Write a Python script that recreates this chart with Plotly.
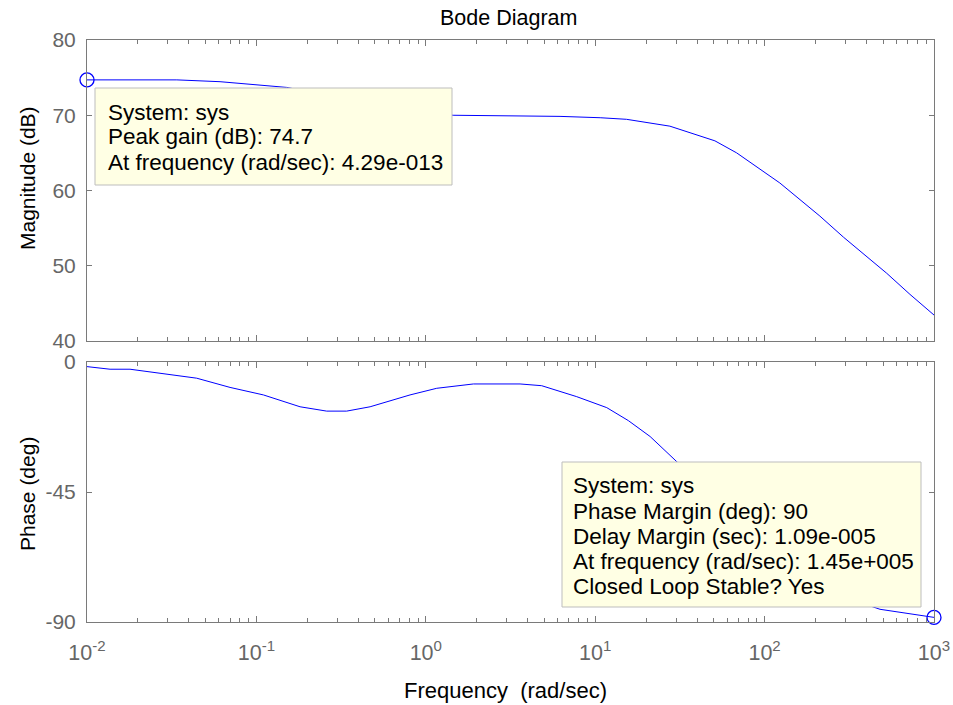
import plotly.graph_objects as go

# ---- data ----
mag_freq = [0.01, 0.0179, 0.0339, 0.061, 0.151, 0.3, 0.6, 1.45, 3.0, 6.2, 10.7,
            15.3, 27.6, 50.9, 68.4, 89.7, 123, 212, 292, 526, 721, 1000]
mag_db = [74.7, 74.7, 74.7, 74.46, 73.7, 72.4, 71.0, 70.0, 69.9, 69.85, 69.67,
          69.46, 68.55, 66.6, 65.0, 63.2, 61.0, 56.6, 53.8, 49.0, 46.2, 43.45]

phase_freq = [0.01, 0.01368, 0.01795, 0.0309, 0.0444, 0.0699, 0.110, 0.181, 0.260,
              0.341, 0.469, 0.807, 1.16, 1.91, 3.60, 4.83, 7.78, 11.7, 15.7, 21.1,
              30.3, 50, 100, 200, 480, 1000]
phase_deg = [-1.6, -2.5, -2.5, -4.3, -5.6, -8.8, -11.4, -15.5, -17.0, -17.0, -15.5,
             -11.4, -9.1, -7.6, -7.6, -8.2, -12.0, -15.8, -20.3, -25.8, -34.5,
             -47, -66, -78, -85.6, -88.4]

peak_freq = [0.01]
peak_db = [74.7]
pm_freq = [1000]
pm_deg = [-88.4]

x_tickvals = [0.01, 0.1, 1, 10, 100, 1000]
x_ticktext = ["10<sup>-2</sup>", "10<sup>-1</sup>", "10<sup>0</sup>",
              "10<sup>1</sup>", "10<sup>2</sup>", "10<sup>3</sup>"]
mag_ticks = [40, 50, 60, 70, 80]
mag_ticktext = ["40", "50", "60", "70", "80"]
phase_ticks = [-90, -45, 0]
phase_ticktext = ["-90", "-45", "0"]

box1_lines = ["System: sys", "Peak gain (dB): 74.7",
              "At frequency (rad/sec): 4.29e-013"]
box2_lines = ["System: sys", "Phase Margin (deg): 90", "Delay Margin (sec): 1.09e-005",
              "At frequency (rad/sec): 1.45e+005", "Closed Loop Stable? Yes"]

# ---- layout geometry (pixels) ----
W, H = 953, 705
L, R, T, B = 87, 934, 40, 622
FONT = "Liberation Sans, Arial, sans-serif"
AX = "#7a7a7a"
TICKC = "#666666"


def px(x):
    return (x - L) / (R - L)


def py(y):
    return (B - y) / (B - T)


top_dom = [py(341), 1.0]
bot_dom = [0.0, py(362)]

fig = go.Figure()
fig.add_trace(go.Scatter(x=mag_freq, y=mag_db, mode="lines",
                         line=dict(color="#0000ff", width=1), xaxis="x", yaxis="y",
                         showlegend=False))
fig.add_trace(go.Scatter(x=phase_freq, y=phase_deg, mode="lines",
                         line=dict(color="#0000ff", width=1), xaxis="x2", yaxis="y2",
                         showlegend=False))
fig.add_trace(go.Scatter(x=peak_freq, y=peak_db, mode="markers", cliponaxis=False,
                         marker=dict(symbol="circle-open", size=14, color="#0000ff",
                                     line=dict(width=1.3)),
                         xaxis="x", yaxis="y", showlegend=False))
fig.add_trace(go.Scatter(x=pm_freq, y=pm_deg, mode="markers", cliponaxis=False,
                         marker=dict(symbol="circle-open", size=14, color="#0000ff",
                                     line=dict(width=1.3)),
                         xaxis="x2", yaxis="y2", showlegend=False))

minor_vals = [m * 10.0 ** e for e in range(-2, 3) for m in range(2, 10)]

xcommon = dict(type="log", range=[-2, 3], tickvals=x_tickvals, ticktext=x_ticktext,
               ticks="inside", ticklen=6, tickcolor=AX, showline=True, linecolor=AX,
               linewidth=1, mirror="allticks", showgrid=False, zeroline=False,
               automargin=False,
               minor=dict(tickvals=minor_vals, ticks="inside", ticklen=4,
                          tickcolor=AX, showgrid=False),
               tickfont=dict(family=FONT, size=21.5, color=TICKC))
ycommon = dict(ticks="inside", ticklen=5, tickcolor=AX, showline=True, linecolor=AX,
               linewidth=1, mirror="allticks", showgrid=False, zeroline=False,
               automargin=False,
               tickfont=dict(family=FONT, size=21, color=TICKC), ticklabelstandoff=6)

fig.update_layout(
    width=W, height=H, autosize=False,
    margin=dict(l=L, r=W - R, t=T, b=H - B, pad=0, autoexpand=False),
    paper_bgcolor="white", plot_bgcolor="white",
    xaxis=dict(domain=[0, 1], anchor="y", showticklabels=False, **xcommon),
    yaxis=dict(domain=top_dom, anchor="x", range=[40, 80], tickvals=mag_ticks,
               ticktext=mag_ticktext, **ycommon),
    xaxis2=dict(domain=[0, 1], anchor="y2", showticklabels=True, ticklabelstandoff=11,
                **xcommon),
    yaxis2=dict(domain=bot_dom, anchor="x2", range=[-90, 0], tickvals=phase_ticks,
                ticktext=phase_ticktext, **ycommon),
)

shapes = []
annots = []


def add_box(x0, y0, x1, y1, lines, tx, ty0, dy):
    shapes.append(dict(type="rect", xref="paper", yref="paper", layer="above",
                       x0=px(x0), x1=px(x1), y0=py(y1), y1=py(y0),
                       fillcolor="#ffffe4", line=dict(color="#bdbdbd", width=1)))
    for i, t in enumerate(lines):
        annots.append(dict(xref="paper", yref="paper", x=px(tx), y=py(ty0 + i * dy),
                           xanchor="left", yanchor="middle", showarrow=False, text=t,
                           font=dict(family=FONT, size=22.5, color="black")))


add_box(95, 88, 452, 185, box1_lines, 106, 112, 25)
add_box(562, 462, 921, 607, box2_lines, 571, 486, 25.2)

annots.append(dict(xref="paper", yref="paper", x=px(508), y=py(18), showarrow=False,
                   xanchor="center", yanchor="middle", text="Bode Diagram",
                   font=dict(family=FONT, size=21.5, color="black")))
annots.append(dict(xref="paper", yref="paper", x=px(505), y=py(690), showarrow=False,
                   xanchor="center", yanchor="middle", text="Frequency  (rad/sec)",
                   font=dict(family=FONT, size=22, color="black")))
annots.append(dict(xref="paper", yref="paper", x=px(27), y=py(178), showarrow=False,
                   xanchor="center", yanchor="middle", textangle=-90,
                   text="Magnitude (dB)", font=dict(family=FONT, size=21, color="black")))
annots.append(dict(xref="paper", yref="paper", x=px(27), y=py(494), showarrow=False,
                   xanchor="center", yanchor="middle", textangle=-90,
                   text="Phase (deg)", font=dict(family=FONT, size=21, color="black")))

fig.update_layout(shapes=shapes, annotations=annots)
fig.write_html("out.html")
